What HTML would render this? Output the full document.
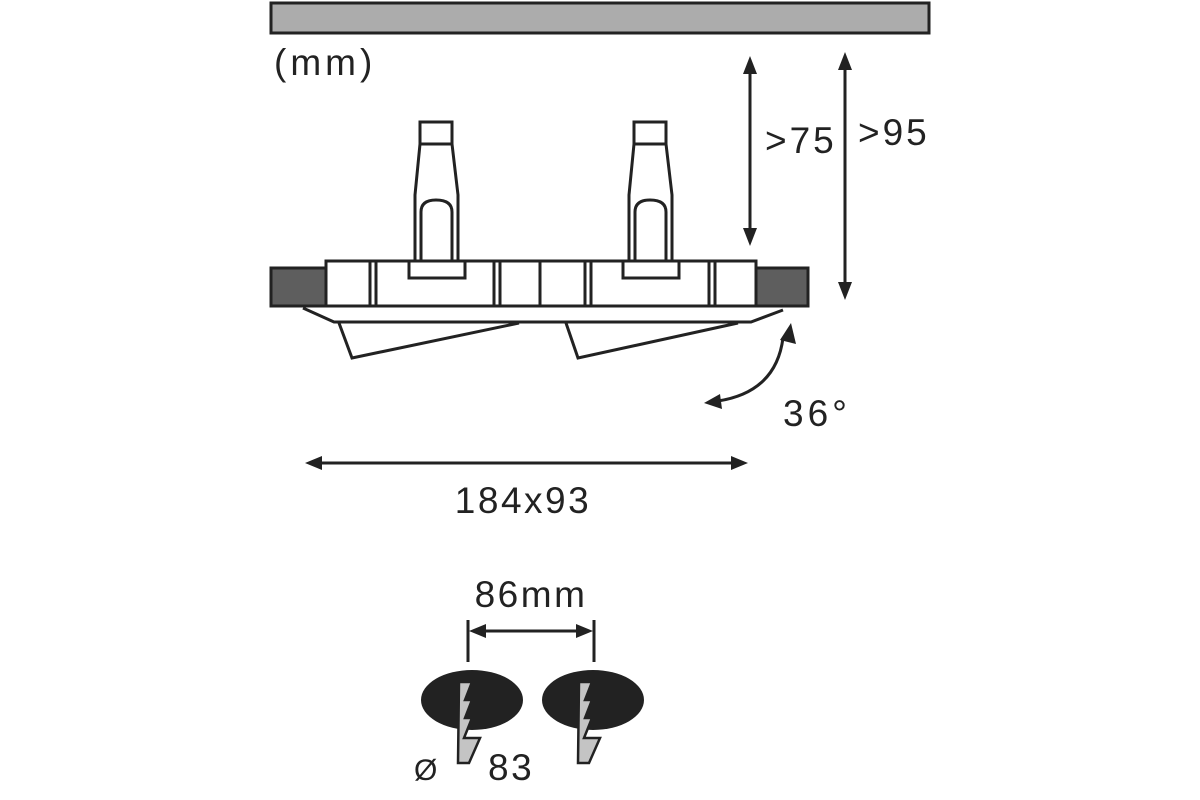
<!DOCTYPE html>
<html><head><style>body{margin:0;background:#fff}svg{display:block}text{letter-spacing:2.5px}</style></head><body>
<svg width="1200" height="800" viewBox="0 0 1200 800" xmlns="http://www.w3.org/2000/svg" font-family="Liberation Sans, DejaVu Sans, sans-serif">
<rect x="271" y="3" width="658" height="30" fill="#acacac" stroke="#222" stroke-width="3"/>
<text x="274" y="75" font-size="37" fill="#222" style="letter-spacing:4px">(mm)</text>

<g stroke="#222" stroke-width="3" fill="#fff" stroke-linejoin="miter">
<polyline points="303,308 334,322 751,322 783,310" fill="none"/>
<polyline points="339,323 352,358 519,323" fill="none"/>
<polyline points="566,323 578,358 738,323" fill="none"/>
<rect x="271" y="268" width="55" height="38" fill="#5e5e5e"/>
<rect x="755" y="268" width="53" height="38" fill="#5e5e5e"/>
<rect x="326" y="261" width="430" height="45"/>
<line x1="370" y1="261" x2="370" y2="306"/><line x1="376" y1="261" x2="376" y2="306"/>
<line x1="494" y1="261" x2="494" y2="306"/><line x1="500" y1="261" x2="500" y2="306"/>
<line x1="540" y1="261" x2="540" y2="306"/>
<line x1="585" y1="261" x2="585" y2="306"/><line x1="591" y1="261" x2="591" y2="306"/>
<line x1="709" y1="261" x2="709" y2="306"/><line x1="715" y1="261" x2="715" y2="306"/>
<g>
<rect x="409" y="261" width="56" height="17"/>
<rect x="420" y="122" width="32" height="22"/>
<polygon points="420,144 452,144 458,195 458,261 415,261 415,195"/>
<path d="M421,261 V212 Q421,200 436,200 Q452,200 452,212 V261" fill="none"/>
</g>
<g transform="translate(214,0)">
<rect x="409" y="261" width="56" height="17"/>
<rect x="420" y="122" width="32" height="22"/>
<polygon points="420,144 452,144 458,195 458,261 415,261 415,195"/>
<path d="M421,261 V212 Q421,200 436,200 Q452,200 452,212 V261" fill="none"/>
</g>
</g>

<g stroke="#222" stroke-width="3" fill="#222">
<line x1="750" y1="72" x2="750" y2="232"/>
<polygon points="743,74 757,74 750,56" stroke="none"/>
<polygon points="743,228 757,228 750,246" stroke="none"/>
<line x1="845" y1="68" x2="845" y2="285"/>
<polygon points="838,70 852,70 845,52" stroke="none"/>
<polygon points="838,282 852,282 845,300" stroke="none"/>
<line x1="318" y1="463" x2="735" y2="463"/>
<polygon points="322,456 322,470 305,463" stroke="none"/>
<polygon points="731,456 731,470 748,463" stroke="none"/>
<path d="M783,338 Q776,392 718,401" fill="none"/>
<polygon points="780,340 796,344 791,323" stroke="none"/>
<polygon points="720,394 722,409 704,403" stroke="none"/>
<line x1="468" y1="620" x2="468" y2="662"/>
<line x1="594" y1="620" x2="594" y2="662"/>
<line x1="480" y1="631" x2="582" y2="631"/>
<polygon points="486,624 486,638 469,631" stroke="none"/>
<polygon points="576,624 576,638 593,631" stroke="none"/>
</g>
<text x="765" y="153" font-size="37" fill="#222" style="letter-spacing:3px">&gt;75</text>
<text x="858" y="145" font-size="37" fill="#222" style="letter-spacing:3px">&gt;95</text>
<text x="783" y="426" font-size="37" fill="#222" style="letter-spacing:4px">36°</text>
<text x="523" y="513" font-size="37" fill="#222" text-anchor="middle">184x93</text>
<text x="531" y="607" font-size="37" fill="#222" text-anchor="middle">86mm</text>

<ellipse cx="472" cy="700" rx="51" ry="30" fill="#222"/>
<ellipse cx="593" cy="700" rx="51" ry="30" fill="#222"/>
<g fill="#c4c4c4" stroke="#222" stroke-width="2.5">
<polygon points="459,682 472,682 465,700 472,700 465,718 472,718 464,738 480,738 469,763 458,763"/>
<polygon points="579,682 592,682 585,700 592,700 585,718 592,718 584,738 600,738 589,763 578,763"/>
</g>
<text x="414" y="780" font-size="30" fill="#222">Ø</text>
<text x="488" y="780" font-size="37" fill="#222">83</text>
</svg>
</body></html>
